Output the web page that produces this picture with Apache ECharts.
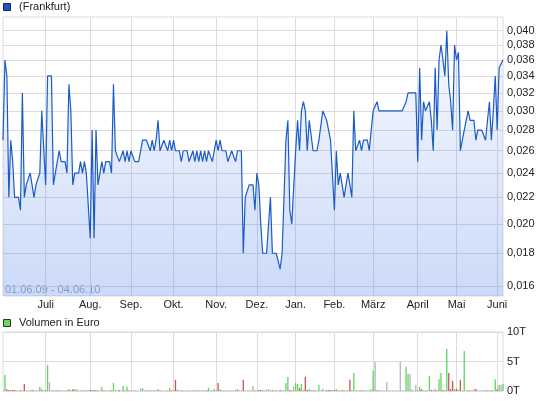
<!DOCTYPE html>
<html><head><meta charset="utf-8">
<script src="https://cdn.jsdelivr.net/npm/echarts@6/dist/echarts.min.js"></script>
<style>html,body{margin:0;padding:0;background:#fff}#c{width:545px;height:401px}</style>
</head><body><div id="c"></div>
<script>
const holidays = ['2009-12-24','2009-12-25','2009-12-31','2010-01-01','2010-04-02','2010-04-05'];
const monthNames = ['Jan.','Feb.','März','April','Mai','Juni','Juli','Aug.','Sep.','Okt.','Nov.','Dez.'];
const priceTicks = [0.016,0.018,0.020,0.022,0.024,0.026,0.028,0.030,0.032,0.034,0.036,0.038,0.040];
const price = [
0.027,0.036,0.034,0.022,0.027,0.025,0.022,0.022,0.022,0.021,
0.032,0.022,0.023,0.023,0.024,0.023,0.022,0.023,0.023,0.024,
0.030,0.030,0.023,0.034,0.034,0.034,0.023,0.024,0.025,0.026,
0.025,0.025,0.025,0.024,0.033,0.030,0.023,0.024,0.024,0.024,
0.025,0.024,0.025,0.024,0.024,0.019,0.028,0.019,0.028,0.023,
0.023,0.025,0.024,0.025,0.025,0.025,0.024,0.033,0.026,0.026,
0.025,0.025,0.026,0.025,0.026,0.025,0.026,0.026,0.025,0.025,
0.025,0.025,0.027,0.027,0.027,0.027,0.026,0.027,0.026,0.027,
0.029,0.026,0.026,0.027,0.027,0.026,0.027,0.026,0.027,0.026,
0.026,0.026,0.025,0.026,0.026,0.026,0.025,0.025,0.026,0.025,
0.026,0.025,0.026,0.025,0.026,0.025,0.026,0.026,0.025,0.026,
0.027,0.026,0.027,0.026,0.026,0.026,0.025,0.025,0.026,0.026,
0.025,0.026,0.026,0.026,0.018,0.022,0.022,0.023,0.023,0.023,
0.021,0.024,0.023,0.020,0.018,0.018,0.018,0.018,0.022,0.018,
0.018,0.018,0.018,0.017,0.018,0.022,0.027,0.029,0.021,0.020,
0.020,0.026,0.029,0.026,0.030,0.031,0.030,0.026,0.029,0.029,
0.026,0.026,0.026,0.027,0.027,0.030,0.030,0.029,0.028,0.027,
0.027,0.021,0.026,0.023,0.024,0.023,0.022,0.023,0.024,0.023,
0.022,0.030,0.026,0.026,0.027,0.026,0.027,0.027,0.027,0.026,
0.028,0.030,0.030,0.031,0.030,0.030,0.030,0.030,0.030,0.030,
0.030,0.030,0.030,0.030,0.030,0.030,0.030,0.030,0.031,0.032,
0.032,0.032,0.032,0.032,0.025,0.035,0.027,0.031,0.030,0.030,
0.031,0.029,0.026,0.035,0.028,0.036,0.038,0.036,0.034,0.040,
0.033,0.031,0.028,0.038,0.036,0.037,0.026,0.027,0.028,0.029,
0.030,0.029,0.029,0.029,0.027,0.028,0.028,0.028,0.028,0.027,
0.029,0.031,0.027,0.030,0.034,0.028,0.035,0.035,0.036];
// volume in thousand euro (T)
const volume = [
0.1,2.7,0.3,0.15,0.15,0.15,0.15,0.1,0.1,0.1,
0.1,1.2,0.1,0.1,0.1,0.15,0.1,0.1,0.1,0.7,
0.35,0.1,0.1,4.4,1.5,0.1,0.1,0.1,0.15,0.1,
0.1,0.1,0.1,0.1,0.35,0.1,0.3,0.3,0.3,0.1,
0.1,0.1,0.1,0.1,0.1,0.15,0.15,0.15,0.15,0.1,
0.1,0.7,0.1,0.1,0.1,0.1,0.1,1.35,0.1,0.1,
0.15,0.1,0.85,0.1,0.7,0.1,0.1,0.1,0.1,0.1,
0.1,0.4,0.5,0.1,0.1,0.15,0.1,0.1,0.1,0.1,
0.35,0.1,0.1,0.1,0.1,0.1,0.5,0.1,0.1,1.9,
0.3,0.1,0.1,0.1,0.1,0.1,0.1,0.1,0.1,0.1,
0.1,0.1,0.1,0.1,0.1,0.1,0.5,0.1,0.1,0.35,
0.1,1.35,0.3,0.1,0.1,0.1,0.1,0.1,0.1,0.1,
0.1,0.35,0.1,0.1,1.9,0.1,0.1,0.1,0.1,0.85,
0.1,0.1,0.15,0.15,0.1,0.1,0.3,0.3,0.1,0.15,
0.1,0.15,0.1,0.15,0.1,0.1,1.35,2.4,0.15,0.1,
0.7,1.35,1.2,0.5,1.2,0.15,2.4,0.15,0.35,0.15,
0.1,0.15,0.1,1.0,0.1,0.35,0.1,0.15,0.15,0.15,
0.15,0.15,0.35,0.1,0.1,0.15,0.1,0.1,0.1,1.9,
0.1,3.05,0.1,0.1,0.1,0.1,0.15,0.1,0.1,0.1,
0.3,3.4,4.9,0.15,0.1,0.1,0.1,0.1,1.5,0.1,
0.1,0.1,0.1,0.1,0.1,4.9,0.1,0.1,4.1,2.9,
2.9,0.3,0.1,1.0,0.1,0.7,0.3,0.1,0.1,0.1,
2.5,0.15,0.1,0.35,0.1,2.0,3.05,0.15,0.1,7.1,
3.05,0.35,1.7,0.35,0.35,0.15,1.9,0.1,6.8,0.1,
0.15,0.1,0.1,0.35,0.35,0.1,0.1,0.15,0.1,0.1,
0.15,0.1,0.1,0.1,2.0,0.3,1.0,1.0,1.2];

const dates = [];
for (let d = new Date(Date.UTC(2009,5,1)); d.getTime() <= Date.UTC(2010,5,4); d.setUTCDate(d.getUTCDate()+1)) {
  const wd = d.getUTCDay(); const s = d.toISOString().slice(0,10);
  if (wd !== 0 && wd !== 6 && holidays.indexOf(s) < 0) dates.push(s);
}
const isMonthStart = (i) => i > 0 && dates[i].slice(5,7) !== dates[i-1].slice(5,7);
const FONT = 'Arial, "Liberation Sans", sans-serif';
const gridColor = '#dcdcdc';

const chart = echarts.init(document.getElementById('c'), null, {renderer:'canvas'});
chart.setOption({
  animation:false,
  textStyle:{fontFamily:FONT},
  grid:[
    {left:3, right:42, top:17, height:279, show:true, borderColor:gridColor, borderWidth:1},
    {left:3, right:42, top:332, height:59, show:true, borderColor:gridColor, borderWidth:1}
  ],
  xAxis:[
    {type:'category', gridIndex:0, data:dates, boundaryGap:false,
     axisLine:{show:false}, axisTick:{show:false},
     axisLabel:{interval:isMonthStart, formatter:(v)=>monthNames[parseInt(v.slice(5,7),10)-1], color:'#222', fontSize:11, margin:3, fontFamily:FONT},
     splitLine:{show:true, interval:isMonthStart, lineStyle:{color:gridColor, width:1}}},
    {type:'category', gridIndex:1, data:dates, boundaryGap:false,
     axisLine:{show:false}, axisTick:{show:false}, axisLabel:{show:false},
     splitLine:{show:true, interval:isMonthStart, lineStyle:{color:gridColor, width:1}}}
  ],
  yAxis:[
    {type:'log', gridIndex:0, logBase:10, min:0.01544, max:0.04201, position:'right',
     axisLine:{show:false},
     axisTick:{show:false, customValues:priceTicks},
     axisLabel:{customValues:priceTicks, color:'#222', fontSize:11, margin:4, fontFamily:FONT,
       formatter:(v)=>(Math.round(v*1000)/1000).toFixed(3).replace('.',',')},
     splitLine:{show:true, lineStyle:{color:gridColor, width:1}}},
    {type:'value', gridIndex:1, min:0, max:10, interval:5, position:'right',
     axisLine:{show:false}, axisTick:{show:false},
     axisLabel:{color:'#222', fontSize:11, margin:4, fontFamily:FONT, formatter:(v)=>v+'T'},
     splitLine:{show:true, lineStyle:{color:gridColor, width:1}}}
  ],
  series:[
    {type:'line', xAxisIndex:0, yAxisIndex:0, data:price, symbol:'none',
     lineStyle:{color:'#1c5bc6', width:1.2},
     areaStyle:{origin:'start', color:new echarts.graphic.LinearGradient(0,0,0,1,[
       {offset:0, color:'rgba(50,110,230,0.05)'},{offset:1, color:'rgba(50,110,230,0.36)'}])}},
    {type:'bar', xAxisIndex:1, yAxisIndex:1, data:volume, barWidth:1.3,
     itemStyle:{color:(p)=>{const i=p.dataIndex; if(i===0) return '#bbbbbb';
       return price[i]>price[i-1] ? '#5fd65f' : (price[i]<price[i-1] ? '#d65050' : '#b4b4b4');}}}
  ],
  graphic:[
    {type:'rect', left:3, top:3, shape:{width:7, height:7}, style:{fill:'#1f55c0', stroke:'#15285a', lineWidth:1}},
    {type:'text', left:19, top:1, style:{text:'(Frankfurt)', font:'11px '+FONT, fill:'#222'}},
    {type:'text', left:5, top:284, style:{text:'01.06.09 - 04.06.10', font:'11px '+FONT, fill:'#9aa6b8'}},
    {type:'rect', left:3, top:319, shape:{width:7, height:7}, style:{fill:'#66d866', stroke:'#333', lineWidth:1}},
    {type:'text', left:19, top:317, style:{text:'Volumen in Euro', font:'11px '+FONT, fill:'#222'}}
  ]
});
</script></body></html>
